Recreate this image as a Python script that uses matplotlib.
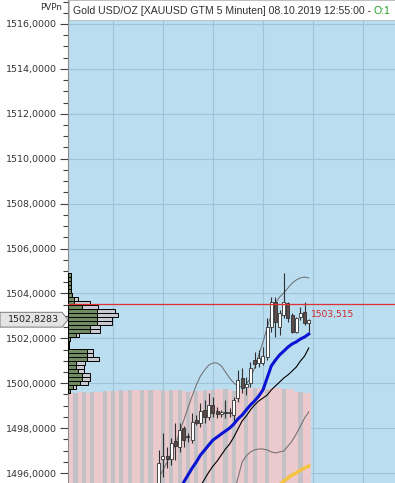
import numpy as np
import matplotlib.pyplot as plt
from matplotlib.patches import Polygon, Rectangle
from matplotlib.ticker import MultipleLocator, FuncFormatter

# 5-minute candles, index 0 = first candle drawn
opens = [1495.24, 1496.62, 1496.76, 1496.62, 1497.43, 1497.16, 1498.00, 1497.62, 1497.47, 1498.36,
         1498.23, 1498.81, 1498.49, 1499.03, 1498.76, 1498.63, 1498.72, 1498.67, 1498.58, 1499.34,
         1500.23, 1499.83, 1500.01, 1501.03, 1500.90, 1500.90, 1501.17, 1502.50, 1503.62, 1502.50,
         1503.04, 1503.57, 1503.04, 1502.28, 1502.95, 1503.17, 1502.68]
highs = [1497.03, 1497.78, 1497.16, 1497.56, 1498.23, 1498.23, 1498.09, 1497.78, 1498.67, 1498.58,
         1499.12, 1499.25, 1499.56, 1499.39, 1498.94, 1498.81, 1499.25, 1498.90, 1499.39, 1500.59,
         1500.68, 1500.28, 1500.94, 1501.39, 1501.48, 1501.61, 1502.90, 1503.84, 1503.84, 1503.26,
         1504.91, 1503.60, 1503.13, 1502.95, 1503.39, 1503.62, 1502.86]
lows = [1495.02, 1495.82, 1496.22, 1496.36, 1496.58, 1496.94, 1497.16, 1497.38, 1497.34, 1498.14,
        1498.05, 1498.23, 1498.36, 1498.49, 1498.45, 1498.49, 1498.45, 1498.49, 1498.27, 1499.16,
        1499.56, 1499.47, 1499.83, 1500.68, 1500.72, 1500.81, 1501.03, 1502.28, 1502.06, 1502.15,
        1502.90, 1502.73, 1502.24, 1502.24, 1502.82, 1502.60, 1502.28]
closes = [1496.45, 1496.76, 1496.62, 1497.34, 1497.20, 1497.92, 1497.47, 1497.60, 1498.27, 1498.23,
          1498.76, 1498.49, 1499.03, 1498.67, 1498.63, 1498.72, 1498.67, 1498.72, 1499.25, 1500.14,
          1499.79, 1499.96, 1500.68, 1500.85, 1501.12, 1501.21, 1502.50, 1503.62, 1502.73, 1503.13,
          1503.62, 1502.90, 1502.28, 1502.90, 1503.13, 1502.68, 1502.82]

# indicator lines (first candle index, values)
blue_start = 5
blue_line = [1495.11, 1495.60, 1495.91, 1496.22, 1496.49, 1496.80, 1497.02, 1497.25, 1497.47, 1497.60,
             1497.74, 1497.87, 1498.00, 1498.18, 1498.41, 1498.58, 1498.81, 1499.03, 1499.21, 1499.43,
             1499.70, 1500.23, 1500.77, 1501.03, 1501.26, 1501.43, 1501.61, 1501.75, 1501.84, 1501.97,
             1502.06, 1502.19]
black_start = 10
black_line = [1495.42, 1495.73, 1496.04, 1496.31, 1496.53, 1496.80, 1497.07, 1497.29, 1497.60, 1497.96,
              1498.32, 1498.54, 1498.81, 1499.03, 1499.21, 1499.34, 1499.47, 1499.70, 1499.88, 1500.05,
              1500.23, 1500.37, 1500.54, 1500.72, 1500.99, 1501.21, 1501.57]
upper_start = 0
upper_band = [1495.78, 1496.13, 1496.49, 1496.89, 1497.29, 1497.83, 1498.36, 1498.90, 1499.43, 1499.92,
              1500.32, 1500.59, 1500.81, 1500.90, 1500.90, 1500.77, 1500.50, 1500.23, 1500.01, 1499.88,
              1499.83, 1499.96, 1500.23, 1500.68, 1501.26, 1501.83, 1502.46, 1503.08, 1503.57, 1503.84,
              1504.02, 1504.24, 1504.46, 1504.60, 1504.69, 1504.73, 1504.69]
lower_start = 18
lower_band = [1495.15, 1495.78, 1496.49, 1496.76, 1496.94, 1497.03, 1497.07, 1497.07, 1497.03, 1496.94,
              1496.89, 1496.94, 1496.98, 1497.20, 1497.43, 1497.74, 1498.09, 1498.45, 1498.72]
orange_start = 29
orange_line = [1495.47, 1495.64, 1495.78, 1495.91, 1496.00, 1496.13, 1496.22, 1496.31]

# volume bars at the bottom
vol_start = -21
volumes = [935, 932, 938, 940, 936, 942, 945, 940,
           950, 948, 955, 952, 958, 956, 960, 962,
           962, 965, 960, 958, 963, 966, 960, 955, 962, 964,
           958, 950, 945, 948, 952, 955, 960, 962,
           965, 970, 972, 968, 960, 955, 958, 962,
           975, 980, 983, 985, 980, 978, 982, 984, 980, 976, 972, 970,
           945, 940, 935, 930]
vol_gray = [-20, -18, -16, -13, -11, -9, -7, -4, -2, 1, 3, 5, 7, 9, 11, 13, 16, 18, 21, 23, 26, 30, 34]

# volume profile (top bin first)
prof_top = 1504.82
prof_step = 0.178
prof_green = [3, 3, 3, 3, 3, 4, 6, 6, 14, 29, 29, 29, 29, 22, 22, 8, 2, 1, 1,
              19, 19, 19, 8, 8, 10, 14, 14, 12, 5, 2]
prof_total = [3, 3, 3, 3, 3, 4, 10, 22, 30, 47, 50, 44, 44, 32, 32, 11, 2, 1, 1,
              25, 25, 31, 17, 16, 16, 22, 22, 20, 8, 2]

last_price = 1503.515
poc_price = 1502.8283
hour_lines = [-11, 1, 13, 25, 37, 49]
title = "Gold USD/OZ [XAUUSD GTM 5 Minuten] 08.10.2019 12:55:00 - "

W, H = 395, 483
fig = plt.figure(figsize=(W / 100, H / 100), dpi=100, facecolor='white')
rect = [68 / W, 0, 327 / W, 1]

# background + grid + price axis
ax_bg = fig.add_axes(rect)
ax_bg.set_facecolor('#BADDF0')
ax_bg.set_xlim(-21.8, 56.7)
ax_bg.set_ylim(1495.555, 1517.069)
ax_bg.set_xticks(hour_lines)
ax_bg.tick_params(axis='x', length=0, labelbottom=False)
ax_bg.yaxis.set_major_locator(MultipleLocator(2))
ax_bg.yaxis.set_minor_locator(MultipleLocator(0.5))
ax_bg.yaxis.set_major_formatter(FuncFormatter(lambda v, p: f"{v:.4f}".replace('.', ',')))
ax_bg.tick_params(axis='y', which='major', length=6, width=0.8, color='#404040',
                  labelsize=6.8, labelcolor='#333333', pad=2)
ax_bg.tick_params(axis='y', which='minor', length=3.5, width=0.8, color='#404040')
ax_bg.grid(True, which='major', color='#9EC3DA', lw=0.8)
for s in ['top', 'right', 'bottom']:
    ax_bg.spines[s].set_visible(False)
ax_bg.spines['left'].set_color('#8A8A8A')
ax_bg.spines['left'].set_linewidth(0.8)

# volume
ax_vol = fig.add_axes(rect, sharex=ax_bg)
ax_vol.axis('off')
ax_vol.set_ylim(0, 5000)
vx = np.arange(vol_start, vol_start + len(volumes))
vcol = ['#C2C2C6' if i in vol_gray else '#EBC9CD' for i in vx]
ax_vol.bar(vx, volumes, width=1.0, color=vcol, linewidth=0)

# volume profile
ax_prof = fig.add_axes([68 / W, 0, 100 / W, 1], sharey=ax_bg)
ax_prof.axis('off')
ax_prof.set_xlim(0, 100)
levels = prof_top - prof_step * np.arange(len(prof_total))
ax_prof.barh(levels, prof_total, height=prof_step, color='#C9C9D1', edgecolor='black', lw=0.7)
ax_prof.barh(levels, prof_green, height=prof_step, color='#6E8C5F', edgecolor='black', lw=0.7)

# candles and lines
ax = fig.add_axes(rect, sharex=ax_bg, sharey=ax_bg)
ax.axis('off')
idx = np.arange(len(opens))
o = np.array(opens)
c = np.array(closes)
ax.vlines(idx, lows, highs, color='#303030', lw=0.8, zorder=3)
up = c >= o
body_lo = np.minimum(o, c)
body_h = np.maximum(np.abs(c - o), 0.04)
ax.bar(idx[up], body_h[up], bottom=body_lo[up], width=0.72, color='white',
       edgecolor='#303030', lw=0.6, zorder=4)
ax.bar(idx[~up], body_h[~up], bottom=body_lo[~up], width=0.72, color='#5E4A4A',
       edgecolor='#303030', lw=0.6, zorder=4)

ax.plot(np.arange(upper_start, upper_start + len(upper_band)), upper_band, color='#6A6A6A', lw=0.7, zorder=2)
ax.plot(np.arange(lower_start, lower_start + len(lower_band)), lower_band, color='#6A6A6A', lw=0.7, zorder=2)
ax.plot(np.arange(black_start, black_start + len(black_line)), black_line, color='black', lw=0.8, zorder=5)
ax.plot(np.arange(blue_start, blue_start + len(blue_line)), blue_line, color='#0A14D2', lw=2.2, zorder=5)
ax.plot(np.arange(orange_start, orange_start + len(orange_line)), orange_line, color='#F5C242', lw=2.5, zorder=5)

ax.axhline(last_price, color='#E03030', lw=0.9, zorder=6)
ax.text(36.5, 1503.04, "1503,515", color='#D02828', fontsize=6.6, va='center', ha='left', zorder=7)

# price tag on the left axis
tr = ax.get_yaxis_transform()
tag = Polygon([(-68 / 327, poc_price + 0.33), (-6 / 327, poc_price + 0.33), (0, poc_price),
               (-6 / 327, poc_price - 0.33), (-68 / 327, poc_price - 0.33)],
              closed=True, transform=tr, clip_on=False, fc='#E4E4E4', ec='#7A7A7A', lw=0.7, zorder=8)
ax.add_patch(tag)
ax.text(-35 / 327, poc_price, f"{poc_price:.4f}".replace('.', ','), transform=tr, clip_on=False,
        fontsize=6.8, color='#222222', ha='center', va='center', zorder=9)

# header
fig.text(40 / W, 1 - 7 / H, "PVPn", fontsize=6.3, color='#333333', va='center', ha='left')
fig.patches.append(Rectangle((69 / W, 1 - 20 / H), 326 / W, 20 / H, transform=fig.transFigure,
                             fc='white', ec='#B8B8B8', lw=0.6))
t = fig.text(73 / W, 1 - 11 / H, title, fontsize=7.6, family='Liberation Sans',
             color='#303030', va='center', ha='left')
fig.canvas.draw()
bb = t.get_window_extent()
fig.text(bb.x1 / W, 1 - 11 / H, "O:1", fontsize=7.6, family='Liberation Sans',
         color='#22A022', va='center', ha='left')

fig.savefig('out.png', dpi=100, facecolor='white')
